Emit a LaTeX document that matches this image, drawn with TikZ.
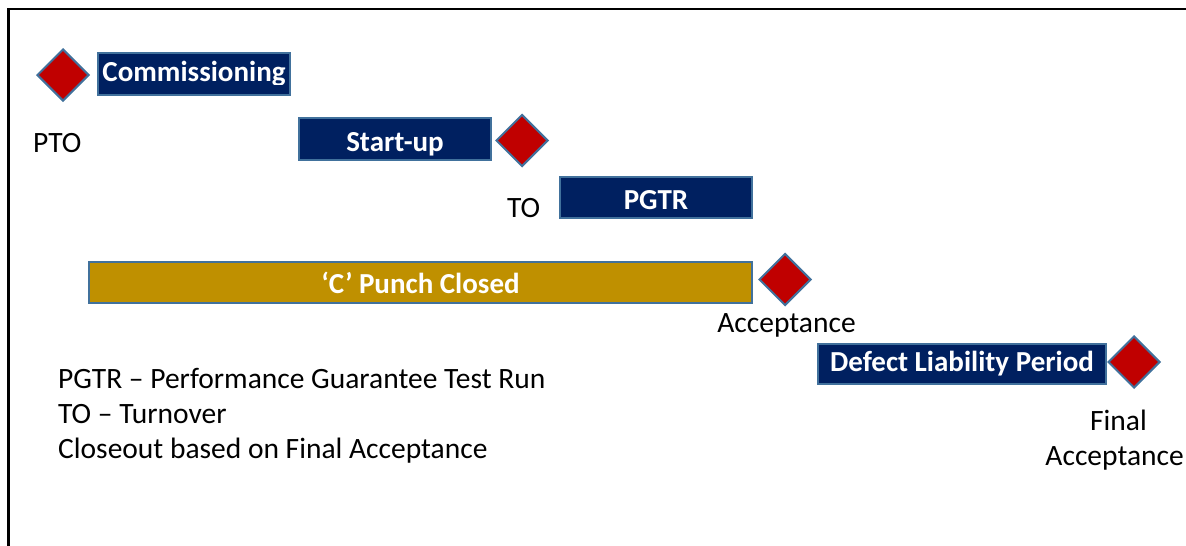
\documentclass[tikz,border=0pt]{standalone}
\usepackage{fontspec}
\setmainfont{Carlito}
\usetikzlibrary{shapes.geometric}
\definecolor{navy}{HTML}{002060}
\definecolor{edgeblue}{HTML}{41719C}
\definecolor{milestone}{HTML}{C00000}
\definecolor{punchgold}{HTML}{BF9000}
\tikzset{
  phase/.style={draw=edgeblue, line width=2pt, fill=navy, text=white,
    font=\fontsize{29}{35}\selectfont\bfseries, inner sep=0pt,
    text height=18.7pt, text depth=0pt, minimum height=42pt},
  punch/.style={phase, fill=punchgold},
  gate/.style={diamond, draw=edgeblue, line width=2pt, fill=milestone,
    inner sep=0pt, minimum width=52pt, minimum height=52pt, shape aspect=1},
  lbl/.style={font=\fontsize{29.5}{35}\selectfont, inner sep=0pt, text=black}
}
\begin{document}
\begin{tikzpicture}[x=1pt, y=-1pt]
  \useasboundingbox (0,0) rectangle (1186,546);
  \clip (0,0) rectangle (1186,546);
  % outer frame, running past the right and bottom edges
  \draw[line width=2.5pt] (8.5,9) rectangle (1300,700);

  % phases
  \node[phase, minimum width=192pt] (comm) at (194,74) {};
  \begin{scope}
    \clip (97,52) rectangle (291,84);
    \node[lbl, text=white, font=\fontsize{29}{35}\selectfont\bfseries, anchor=base] (commtext) at (194,81) {Commissioning};
  \end{scope}
  \node[phase, minimum width=192pt, text height=25.7pt] (start) at (395,139) {Start-up};
  \node[phase, minimum width=192pt, minimum height=41pt, text height=23.7pt] (pgtr) at (656,197.5) {PGTR};
  \node[punch, minimum width=663pt, minimum height=41pt, text height=21.7pt] (punchbar) at (420.5,282.5) {‘C’ Punch Closed};
  \node[phase, minimum width=288pt, minimum height=40pt, text height=15.7pt] (dlp) at (962,364) {Defect Liability Period};

  % milestones
  \node[gate] (pto) at (63,75) {};
  \node[gate] (to) at (522,140.5) {};
  \node[gate] (acc) at (785,279.5) {};
  \node[gate] (fin) at (1134,362) {};

  % milestone labels
  \node[lbl, anchor=base west] (ptolbl) at (33,152) {PTO};
  \node[lbl, anchor=base west] (tolbl) at (507,217) {TO};
  \node[lbl, anchor=base] (acclbl) at (786.5,332) {Acceptance};
  \node[lbl, anchor=base] (finlbl1) at (1118.5,430) {Final};
  \node[lbl, anchor=base east] (finlbl2) at (1184,465) {Acceptance};

  % legend
  \node[lbl, anchor=base west] (leg1) at (58,388) {PGTR – Performance Guarantee Test Run};
  \node[lbl, anchor=base west] (leg2) at (58,423) {TO – Turnover};
  \node[lbl, anchor=base west] (leg3) at (58,458) {Closeout based on Final Acceptance};
\end{tikzpicture}
\end{document}
